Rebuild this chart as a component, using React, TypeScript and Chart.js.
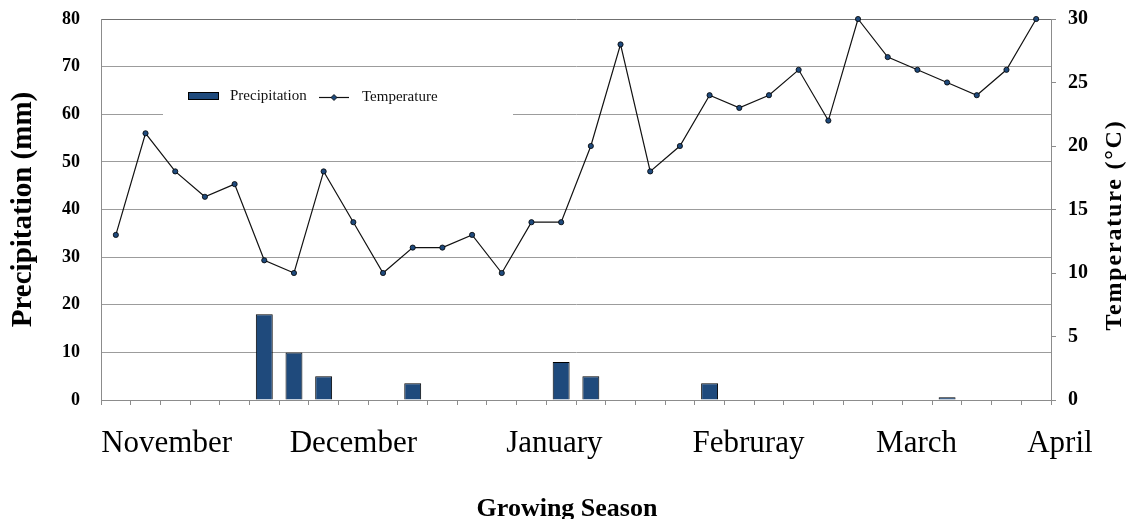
import { useEffect, useRef } from 'react';
import { Chart, registerables } from 'chart.js';

Chart.register(...registerables);

// ---- data ----
const observations = [
  '1', '2', '3', '4', '5', '6', '7', '8', '9', '10', '11', '12', '13', '14', '15', '16',
  '17', '18', '19', '20', '21', '22', '23', '24', '25', '26', '27', '28', '29', '30', '31', '32',
];
const precipitationMm = [
  null, null, null, null, null, 18, 10, 5, null, null, 3.5, null, null, null, null, 8,
  5, null, null, null, 3.5, null, null, null, null, null, null, null, 0.6, null, null, null,
];
const temperatureC = [
  13, 21, 18, 16, 17, 11, 10, 18, 14, 10, 12, 12, 13, 10, 14, 14,
  20, 28, 18, 20, 24, 23, 24, 26, 22, 30, 27, 26, 25, 24, 26, 30,
];
const precipitationTicks = [0, 10, 20, 30, 40, 50, 60, 70, 80];
const temperatureTicks = [0, 5, 10, 15, 20, 25, 30];
const monthNames = ['November', 'December', 'January', 'Februray', 'March', 'April'];
const monthAtObservation = [1.71, 8.0, 14.77, 21.31, 26.97, 31.8];

const SERIF = '"Liberation Serif", "Times New Roman", serif';
const BAR_BLUE = '#1f4a7c';

const overlayPlugin = {
  id: 'overlay',
  beforeDatasetsDraw(chart: any) {
    const ctx = chart.ctx;
    const ds = chart.data.datasets;
    ctx.save();
    // legend background (covers grid)
    ctx.fillStyle = '#ffffff';
    ctx.fillRect(163, 74, 350, 44);
    // bar swatch
    ctx.fillStyle = BAR_BLUE;
    ctx.fillRect(188.5, 92.5, 30, 7);
    ctx.strokeStyle = '#000';
    ctx.lineWidth = 1;
    ctx.strokeRect(188.5, 92.5, 30, 7);
    ctx.font = `15px ${SERIF}`;
    ctx.fillStyle = '#111';
    ctx.textAlign = 'left';
    ctx.textBaseline = 'middle';
    ctx.fillText(ds[0].label, 230, 96);
    // line swatch
    ctx.beginPath();
    ctx.moveTo(319, 97.5);
    ctx.lineTo(349, 97.5);
    ctx.strokeStyle = '#111';
    ctx.lineWidth = 1.2;
    ctx.stroke();
    ctx.beginPath();
    ctx.moveTo(334, 94.5);
    ctx.lineTo(337, 97.5);
    ctx.lineTo(334, 100.5);
    ctx.lineTo(331, 97.5);
    ctx.closePath();
    ctx.fillStyle = BAR_BLUE;
    ctx.fill();
    ctx.lineWidth = 0.8;
    ctx.strokeStyle = '#000';
    ctx.stroke();
    ctx.fillStyle = '#111';
    ctx.fillText(ds[1].label, 362, 97);
    ctx.restore();
  },
  afterDraw(chart: any) {
    const ctx = chart.ctx;
    const xs = chart.scales.x;
    ctx.save();
    // month labels
    ctx.font = `31px ${SERIF}`;
    ctx.fillStyle = '#000';
    ctx.textAlign = 'center';
    ctx.textBaseline = 'alphabetic';
    monthNames.forEach((m, i) => {
      ctx.fillText(m, xs.getPixelForValue(monthAtObservation[i]), 452);
    });
    // bottom title
    ctx.font = `bold 26px ${SERIF}`;
    ctx.fillText('Growing Season', 567, 516);
    // right title (reads bottom to top)
    ctx.translate(1121, 225);
    ctx.rotate(-Math.PI / 2);
    ctx.font = `bold 24px ${SERIF}`;
    try { (ctx as any).letterSpacing = '1.8px'; } catch (e) { /* ignore */ }
    ctx.fillText('Temperature (°C)', 0, 0);
    ctx.restore();
  },
};

export default function App() {
  const canvasRef = useRef<HTMLCanvasElement>(null);

  useEffect(() => {
    if (!canvasRef.current) return;
    Chart.defaults.font.family = SERIF;
    const chart = new Chart(canvasRef.current, {
      type: 'bar',
      data: {
        labels: observations,
        datasets: [
          {
            type: 'bar',
            label: 'Precipitation',
            data: precipitationMm,
            yAxisID: 'y',
            backgroundColor: BAR_BLUE,
            borderColor: '#000',
            borderWidth: 1,
            categoryPercentage: 1,
            barPercentage: 0.57,
            order: 2,
          },
          {
            type: 'line',
            label: 'Temperature',
            data: temperatureC,
            yAxisID: 'y1',
            borderColor: '#111',
            borderWidth: 1.2,
            tension: 0,
            pointRadius: 2.6,
            pointStyle: 'circle',
            pointBackgroundColor: BAR_BLUE,
            pointBorderColor: '#000',
            pointBorderWidth: 0.8,
            clip: false,
            order: 1,
          } as any,
        ],
      },
      options: {
        responsive: false,
        animation: false,
        devicePixelRatio: 1,
        layout: { padding: { top: 19, left: 0, right: 0, bottom: 0 } },
        plugins: {
          legend: { display: false },
          tooltip: { enabled: false },
        },
        scales: {
          x: {
            type: 'category',
            position: 'bottom',
            offset: true,
            afterFit: (s: any) => { s.height = 119; s.paddingLeft = 0; s.paddingRight = 0; },
            grid: {
              display: true,
              offset: true,
              drawOnChartArea: false,
              drawTicks: true,
              tickLength: 5,
              color: '#8c8c8c',
            },
            border: { display: true, color: '#8c8c8c', width: 1 },
            ticks: { display: false, autoSkip: false },
          },
          y: {
            type: 'linear',
            position: 'left',
            min: 0,
            max: 80,
            afterBuildTicks: (s: any) => { s.ticks = precipitationTicks.map((v) => ({ value: v })); },
            afterFit: (s: any) => { s.width = 101; s.paddingTop = 0; s.paddingBottom = 0; },
            grid: {
              color: (c: any) => (c.tick && c.tick.value === 80 ? '#707070' : '#9c9c9c'),
              lineWidth: 1,
              drawTicks: false,
            },
            border: { display: true, color: '#8c8c8c', width: 1 },
            ticks: {
              padding: 21,
              color: '#000',
              font: { family: SERIF, size: 18, weight: 'bold' },
            },
            title: {
              display: true,
              text: 'Precipitation (mm)',
              color: '#000',
              font: { family: SERIF, size: 29, weight: 'bold' },
              padding: { top: 6, bottom: 0 },
            },
          },
          y1: {
            type: 'linear',
            position: 'right',
            min: 0,
            max: 30,
            afterBuildTicks: (s: any) => { s.ticks = temperatureTicks.map((v) => ({ value: v })); },
            afterFit: (s: any) => { s.width = 80; s.paddingTop = 0; s.paddingBottom = 0; },
            grid: {
              drawOnChartArea: false,
              drawTicks: true,
              tickLength: 5,
              color: '#8c8c8c',
            },
            border: { display: true, color: '#8c8c8c', width: 1 },
            ticks: {
              padding: 12,
              color: '#000',
              font: { family: SERIF, size: 20, weight: 'bold' },
            },
          },
        },
      } as any,
      plugins: [overlayPlugin],
    });
    return () => chart.destroy();
  }, []);

  return (
    <div style={{ position: 'absolute', left: 0, top: 0, width: 1131, height: 519, background: '#fff' }}>
      <canvas ref={canvasRef} width={1131} height={519} style={{ display: 'block' }} />
    </div>
  );
}
